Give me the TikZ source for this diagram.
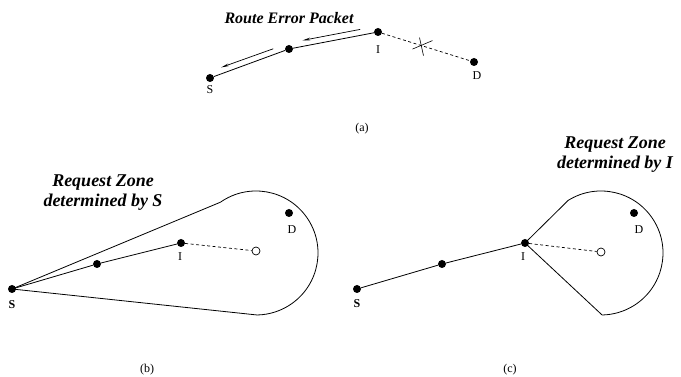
\documentclass[tikz,border=0pt]{standalone}
\usepackage{fontspec}
\setmainfont{Liberation Serif}
\usepackage{tikz}
\usetikzlibrary{arrows.meta,positioning,calc}

\begin{document}
\begin{tikzpicture}[
    x=1pt, y=1pt,
    dot/.style={circle, fill=black, inner sep=0pt, minimum size=8pt},
    hollow/.style={circle, draw, fill=white, inner sep=0pt, minimum size=8pt, line width=0.7pt},
    lbl/.style={font=\fontsize{12}{14}\selectfont, inner sep=1pt},
    hop/.style={line width=0.8pt},
    lost/.style={line width=0.7pt, dash pattern=on 3pt off 2.5pt},
    zone/.style={line width=0.8pt},
    note/.style={font=\fontsize{18}{20}\selectfont\bfseries\itshape, align=center, inner sep=0pt},
    rerr/.style={-{Stealth[length=8pt, width=2.6pt]}, line width=0.7pt}
]
\useasboundingbox (0,0) rectangle (681,377);

% (a) route error travelling back to S
\node[dot] (aS) at (210,299) {};
\node[dot] (a1) at (289,328) {};
\node[dot] (aI) at (378,345) {};
\node[dot] (aD) at (474,315) {};
\node[lbl, below=2.5pt of aS] (aSl) {S};
\node[lbl, below=8.5pt of aI] (aIl) {I};
\node[lbl, below=4.5pt of aD, xshift=3pt] (aDl) {D};

\draw[hop] (aS) -- (a1) -- (aI);
\draw[lost] (aI) -- (aD);
\coordinate (aX) at ($(aI)!0.453!(aD)$);
\draw[line width=0.6pt] (aX) ++(-9,-3.5) -- ++(20,8.5);
\draw[line width=0.6pt] (aX) ++(-2,8) -- ++(4,-18);

\draw[rerr] ([yshift=6pt]$(aI)!0.2!(a1)$) -- ([yshift=6pt]$(aI)!0.85!(a1)$);
\draw[rerr] ([yshift=6pt]$(a1)!0.2!(aS)$) -- ([yshift=6.5pt]$(a1)!0.86!(aS)$);
\node[note, font=\fontsize{16}{18}\selectfont\bfseries\itshape] (rep) at (289,359) {Route Error Packet};
\node[lbl] (capa) at (362,248) {(a)};

% (b) request zone of S
\node[dot] (bS) at (12,88) {};
\node[dot] (b1) at (97,113) {};
\node[dot] (bI) at (181,134) {};
\node[hollow] (bO) at (256,126) {};
\node[dot] (bD) at (289,164) {};
\node[lbl, below=6.5pt of bS, font=\fontsize{12}{14}\selectfont\bfseries] (bSl) {S};
\node[lbl, below=4pt of bI, xshift=-1pt] (bIl) {I};
\node[lbl, below=7.5pt of bD, xshift=3pt] (bDl) {D};

\coordinate (bC) at (256,124);
\draw[zone] (bS.center) -- ($(bC)+(125:62)$) arc[start angle=125, end angle=-89, radius=62] -- cycle;
\draw[hop] (bS) -- (b1) -- (bI);
\draw[lost] (bI) -- (bO);
\node[note] (bzone) at (103,184) {Request Zone\\determined by S};
\node[lbl] (capb) at (147,7) {(b)};

% (c) request zone of I
\node[dot] (cS) at (357,88) {};
\node[dot] (c1) at (442,113) {};
\node[dot] (cI) at (525,134) {};
\node[hollow] (cO) at (601,125) {};
\node[dot] (cD) at (634,164) {};
\node[lbl, below=5.5pt of cS, font=\fontsize{12}{14}\selectfont\bfseries] (cSl) {S};
\node[lbl, below=4pt of cI, xshift=-2pt] (cIl) {I};
\node[lbl, below=7.5pt of cD, xshift=5pt] (cDl) {D};

\coordinate (cC) at (601,124);
\draw[zone] (cI.center) -- ($(cC)+(122:62)$) arc[start angle=122, end angle=-89, radius=62] -- cycle;
\draw[hop] (cS) -- (c1) -- (cI);
\draw[lost] (cI) -- (cO);
\node[note] (czone) at (615,222) {Request Zone\\determined by I};
\node[lbl] (capc) at (510,7) {(c)};
\end{tikzpicture}
\end{document}
